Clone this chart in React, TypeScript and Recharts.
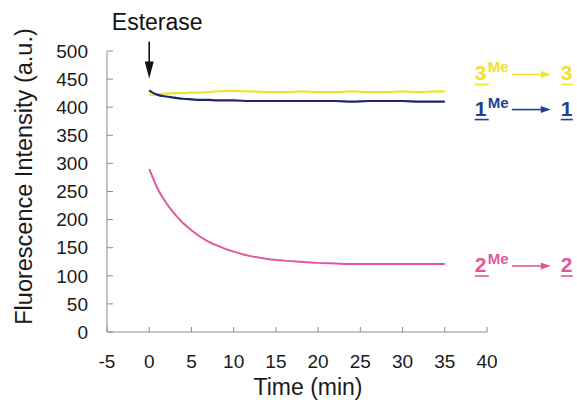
import React from "react";
import { LineChart, Line, XAxis, YAxis, ReferenceDot } from "recharts";

const FONT = '"Liberation Sans", Arial, Helvetica, sans-serif';

// time points (min)
const times = [0, 0.5, 1, 2, 3, 4, 5, 6, 7, 8, 9, 10, 12, 14, 16, 18, 20, 22, 24, 26, 28, 30, 32, 34, 35];
// 3Me -> 3 (yellow)
const yellow3 = [423, 422, 423, 424, 425, 425, 426, 426, 427, 428, 429, 429, 428, 427, 427, 428, 427, 427, 428, 427, 427, 428, 427, 428, 428];
// 1Me -> 1 (navy)
const navy1 = [430, 425, 422, 419, 417, 415, 414, 413, 413, 412, 412, 412, 411, 411, 411, 411, 411, 411, 410, 411, 411, 411, 410, 410, 410];
// 2Me -> 2 (pink)
const pink2 = [290, 272, 255, 230, 210, 194, 181, 170, 161, 154, 148, 143, 135, 130, 127, 125, 123, 122, 121, 121, 121, 121, 121, 121, 121];

const xTicks = [-5, 0, 5, 10, 15, 20, 25, 30, 35, 40];
const yTicks = [0, 50, 100, 150, 200, 250, 300, 350, 400, 450, 500];

const YELLOW = "#f0e22a";
const NAVY = "#1d2470";
const NAVY_LABEL = "#22418f";
const PINK = "#e0579f";
const AXIS = "#8c8c8c";

const data = times.map((t, i) => ({
  t,
  yellow: yellow3[i],
  navy: navy1[i],
  pink: pink2[i],
}));

const last = times.length - 1;

// "nMe ---> n" tag drawn right of a series end
function seriesTag(num: string, color: string, dy: number) {
  return (props: any) => {
    const { cx, cy } = props;
    const x = cx;
    const b = cy + dy;
    return (
      <g fill={color} fontFamily={FONT} fontWeight="bold">
        <text x={x + 30} y={b} fontSize={21}>{num}</text>
        <line x1={x + 30} x2={x + 44} y1={b + 4} y2={b + 4} stroke={color} strokeWidth={1.6} />
        <text x={x + 43} y={b - 8} fontSize={15}>Me</text>
        <line x1={x + 67} x2={x + 98} y1={b - 6} y2={b - 6} stroke={color} strokeWidth={1.6} />
        <polygon points={`${x + 106},${b - 6} ${x + 96},${b - 9.5} ${x + 96},${b - 2.5}`} />
        <text x={x + 116} y={b} fontSize={21}>{num}</text>
        <line x1={x + 116} x2={x + 128} y1={b + 4} y2={b + 4} stroke={color} strokeWidth={1.6} />
      </g>
    );
  };
}

const esteraseMark = (props: any) => {
  const { cx, cy } = props;
  return (
    <g>
      <text x={cx + 8} y={cy - 49} textAnchor="middle" fontSize={23} fontFamily={FONT} fill="#111">
        Esterase
      </text>
      <line x1={cx} x2={cx} y1={cy - 37} y2={cy - 12} stroke="#111" strokeWidth={1.6} />
      <polygon points={`${cx},${cy} ${cx - 4.5},${cy - 17} ${cx + 4.5},${cy - 17}`} fill="#111" />
    </g>
  );
};

export default function App() {
  return (
    <div style={{ position: "absolute", left: 0, top: 0, width: 577, height: 406, background: "#fff" }}>
      <LineChart width={577} height={406} data={data} margin={{ top: 51, right: 90, left: 0, bottom: 0 }}>
        <XAxis
          dataKey="t"
          type="number"
          domain={[-5, 40]}
          ticks={xTicks}
          interval={0}
          height={74}
          stroke={AXIS}
          tickSize={-5}
          tickMargin={28}
          tick={{ fontSize: 19, fill: "#1a1a1a", fontFamily: FONT }}
          label={{
            content: (p: any) => {
              const vb = p.viewBox;
              return (
                <text x={vb.x + vb.width / 2 + 11} y={vb.y + 63} textAnchor="middle" fontSize={23} fontFamily={FONT} fill="#1a1a1a">
                  Time (min)
                </text>
              );
            },
          }}
        />
        <YAxis
          type="number"
          domain={[0, 500]}
          ticks={yTicks}
          interval={0}
          width={107}
          stroke={AXIS}
          tickSize={-6}
          tickMargin={25}
          tick={{ fontSize: 19, fill: "#1a1a1a", fontFamily: FONT }}
          label={{
            content: (p: any) => {
              const vb = p.viewBox;
              const cx = vb.x + 24;
              const cy = vb.y + vb.height / 2 - 15;
              return (
                <text
                  x={cx}
                  y={cy}
                  transform={`rotate(-90 ${cx} ${cy})`}
                  textAnchor="middle"
                  dominantBaseline="central"
                  fontSize={23.5}
                  fontFamily={FONT}
                  fill="#1a1a1a"
                >
                  Fluorescence Intensity (a.u.)
                </text>
              );
            },
          }}
        />
        <Line dataKey="pink" type="monotone" stroke={PINK} strokeWidth={2} dot={false} isAnimationActive={false} />
        <Line dataKey="yellow" type="monotone" stroke={YELLOW} strokeWidth={2.2} dot={false} isAnimationActive={false} />
        <Line dataKey="navy" type="monotone" stroke={NAVY} strokeWidth={2.2} dot={false} isAnimationActive={false} />
        <ReferenceDot x={0} y={451} r={0} ifOverflow="visible" shape={esteraseMark} />
        <ReferenceDot x={times[last]} y={yellow3[last]} r={0} ifOverflow="visible" shape={seriesTag("3", YELLOW, -11)} />
        <ReferenceDot x={times[last]} y={navy1[last]} r={0} ifOverflow="visible" shape={seriesTag("1", NAVY_LABEL, 14)} />
        <ReferenceDot x={times[last]} y={pink2[last]} r={0} ifOverflow="visible" shape={seriesTag("2", PINK, 8)} />
      </LineChart>
    </div>
  );
}
